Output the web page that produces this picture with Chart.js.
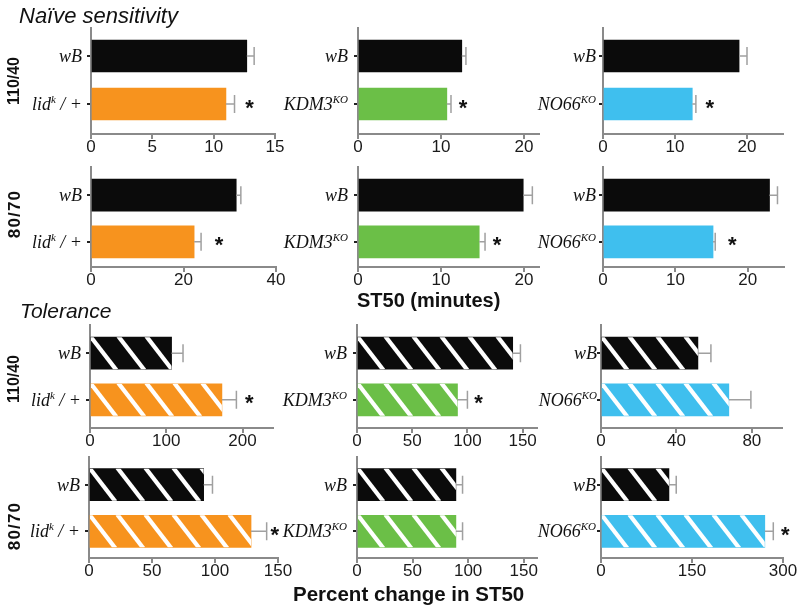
<!DOCTYPE html>
<html>
<head>
<meta charset="utf-8">
<script src="https://cdn.jsdelivr.net/npm/chart.js@4.4.1/dist/chart.umd.min.js"></script>
<style>
html,body{margin:0;padding:0;background:#fff;overflow:hidden;width:800px;height:615px}
#wrap{position:relative;width:800px;height:615px;overflow:hidden;background:#fff}
#wrap canvas{position:absolute}
.txt{position:absolute;white-space:nowrap;line-height:1;color:#111;font-family:"Liberation Sans",Arial,sans-serif}
</style>
</head>
<body>
<div id="wrap"></div>
<script>
// ================= DATA =================
const sectionTitles = ['Naïve sensitivity', 'Tolerance'];
const rowLabels = ['110/40', '80/70', '110/40', '80/70'];
const axisTitles = ['ST50 (minutes)', 'Percent change in ST50'];
const controlLabel = 'wB';
const mutantBase = ['lid', 'KDM3', 'NO66'];
const mutantSup = ['k', 'KO', 'KO'];
const mutantTail = [' / +', '', ''];

// Naive sensitivity, ST50 (minutes); columns = lid / KDM3 / NO66 panels
const naive11040Ctrl = [12.7, 12.5, 18.9];
const naive11040CtrlErr = [0.6, 0.5, 1.1];
const naive11040Mut = [11.0, 10.7, 12.4];
const naive11040MutErr = [0.7, 0.5, 0.5];
const naive11040Sig = [true, true, true];

const naive8070Ctrl = [31.4, 19.9, 23.0];
const naive8070CtrlErr = [1.0, 1.1, 1.1];
const naive8070Mut = [22.3, 14.6, 15.2];
const naive8070MutErr = [1.5, 0.7, 0.3];
const naive8070Sig = [true, true, true];

// Tolerance, percent change in ST50
const tol11040Ctrl = [107, 141, 51.4];
const tol11040CtrlErr = [15, 7, 6.9];
const tol11040Mut = [173, 91, 67.8];
const tol11040MutErr = [19, 9, 11.7];
const tol11040Sig = [true, true, false];

const tol8070Ctrl = [91, 89, 112];
const tol8070CtrlErr = [7, 6, 12];
const tol8070Mut = [128.6, 89, 270];
const tol8070MutErr = [12.4, 6, 14];
const tol8070Sig = [true, false, true];

// x-axis tick labels and axis limits
const naive11040Ticks = [[0, 5, 10, 15], [0, 10, 20], [0, 10, 20]];
const naive8070Ticks = [[0, 20, 40], [0, 10, 20], [0, 10, 20]];
const tol11040Ticks = [[0, 100, 200], [0, 50, 100, 150], [0, 40, 80]];
const tol8070Ticks = [[0, 50, 100, 150], [0, 50, 100, 150], [0, 150, 300]];
const naive11040Max = [15, 21.8, 25];
const naive8070Max = [40, 21.8, 25];
const tol11040Max = [240, 163, 96];
const tol8070Max = [150, 162, 300];

// ================= LAYOUT / STYLE =================
const rows = [
  {ctrl: naive11040Ctrl, ctrlErr: naive11040CtrlErr, mut: naive11040Mut, mutErr: naive11040MutErr, sig: naive11040Sig, ticks: naive11040Ticks, max: naive11040Max, hatched: false},
  {ctrl: naive8070Ctrl, ctrlErr: naive8070CtrlErr, mut: naive8070Mut, mutErr: naive8070MutErr, sig: naive8070Sig, ticks: naive8070Ticks, max: naive8070Max, hatched: false},
  {ctrl: tol11040Ctrl, ctrlErr: tol11040CtrlErr, mut: tol11040Mut, mutErr: tol11040MutErr, sig: tol11040Sig, ticks: tol11040Ticks, max: tol11040Max, hatched: true},
  {ctrl: tol8070Ctrl, ctrlErr: tol8070CtrlErr, mut: tol8070Mut, mutErr: tol8070MutErr, sig: tol8070Sig, ticks: tol8070Ticks, max: tol8070Max, hatched: true}
];
const rowGeom = [[56, 104, 134], [195, 241.5, 266.5], [353, 399.5, 427.5], [484.5, 531, 557.5]];
const colGeom = [
  [[91, 275], [358, 539], [603, 783]],
  [[91, 276], [358, 539], [603, 784]],
  [[90, 273], [357, 537], [601, 782]],
  [[89, 278], [357, 537], [601, 783]]
];
const labelGap = [[9, 10, 7], [9, 10, 7], [9, 10, 4], [9, 10, 5]];
const starDx = [[15, 12, 14], [18, 12, 17], [13, 11, 13], [8, 12, 12]];
const mutColors = ['#f7931e', '#6bbf47', '#3fbfee'];
const ctrlColor = '#0b0b0b';
const axisColor = '#8a8a8a';
const errColor = '#a0a0a0';
const SANS = '"Liberation Sans", Arial, sans-serif';
const SERIF = '"Liberation Serif", "Times New Roman", serif';

const wrap = document.getElementById('wrap');

function makeDecor(p) {
  return {
    id: 'decor',
    afterDatasetsDraw(chart) {
      const ctx = chart.ctx;
      const xs = chart.scales.x;
      const meta = chart.getDatasetMeta(0);
      meta.data.forEach((bar, i) => {
        const pr = bar.getProps(['x', 'y', 'base', 'height'], true);
        const left = Math.min(pr.base, pr.x), right = Math.max(pr.base, pr.x);
        const h = pr.height, top = pr.y - h / 2;
        if (p.hatched) {
          ctx.save();
          ctx.beginPath(); ctx.rect(left, top, right - left, h); ctx.clip();
          ctx.strokeStyle = '#ffffff'; ctx.lineWidth = 4.2; ctx.lineCap = 'butt';
          const slope = 0.77, sp = 28;
          for (let sx = left - sp; sx < right + 2; sx += sp) {
            ctx.beginPath();
            ctx.moveTo(sx - slope, top - 1);
            ctx.lineTo(sx + slope * (h + 1), top + h + 1);
            ctx.stroke();
          }
          ctx.restore();
        }
        const ex = xs.getPixelForValue(p.values[i] + p.errs[i]);
        ctx.save();
        ctx.strokeStyle = errColor; ctx.lineWidth = 1.5;
        ctx.beginPath();
        ctx.moveTo(pr.x, pr.y); ctx.lineTo(ex, pr.y);
        ctx.moveTo(ex, pr.y - 9); ctx.lineTo(ex, pr.y + 9);
        ctx.stroke();
        ctx.restore();
        if (p.sig[i]) {
          ctx.save();
          ctx.font = 'bold 22px ' + SANS;
          ctx.fillStyle = '#111';
          ctx.textAlign = 'center'; ctx.textBaseline = 'alphabetic';
          const m = ctx.measureText('*');
          const yb = pr.y + (m.actualBoundingBoxAscent - m.actualBoundingBoxDescent) / 2;
          ctx.fillText('*', ex + p.starDx, yb);
          ctx.restore();
        }
      });
    },
    afterDraw(chart) {
      const ctx = chart.ctx;
      const ys = chart.scales.y;
      const fMain = 'italic 18px ' + SERIF;
      const fSup = 'italic 11px ' + SERIF;
      p.labels.forEach((lab, i) => {
        const yy = ys.getPixelForValue(i);
        ctx.save();
        ctx.font = fMain;
        const w1 = ctx.measureText(lab.base).width;
        const w3 = lab.tail ? ctx.measureText(lab.tail).width : 0;
        ctx.font = fSup;
        const w2 = lab.sup ? ctx.measureText(lab.sup).width : 0;
        let x = chart.chartArea.left - p.gap - (w1 + w2 + w3);
        const bl = yy + 6;
        ctx.fillStyle = '#111'; ctx.textAlign = 'left'; ctx.textBaseline = 'alphabetic';
        ctx.font = fMain; ctx.fillText(lab.base, x, bl); x += w1;
        if (lab.sup) { ctx.font = fSup; ctx.fillText(lab.sup, x, bl - 7); x += w2; }
        if (lab.tail) { ctx.font = fMain; ctx.fillText(lab.tail, x, bl); }
        ctx.restore();
      });
    }
  };
}

const padL = 80, padR = 30, xAxisH = 32;

rows.forEach((row, r) => {
  const [c0, c1, axisY] = rowGeom[r];
  const gap = c1 - c0;
  const T = c0 - 28;
  const yMin = -(c0 - T) / gap;
  const yMax = 1 + (axisY - c1) / gap;
  for (let c = 0; c < 3; c++) {
    const [L, R] = colGeom[r][c];
    const canvasTop = Math.floor(T - 8);
    const padT = T - canvasTop;
    const cw = (R - L) + padL + padR;
    const ch = Math.round((axisY - T) + padT + xAxisH);
    const cv = document.createElement('canvas');
    cv.width = cw; cv.height = ch;
    cv.style.left = (L - padL) + 'px';
    cv.style.top = canvasTop + 'px';
    cv.style.width = cw + 'px'; cv.style.height = ch + 'px';
    wrap.appendChild(cv);
    const ticks = row.ticks[c];
    const p = {
      hatched: row.hatched,
      values: [row.ctrl[c], row.mut[c]],
      errs: [row.ctrlErr[c], row.mutErr[c]],
      sig: [false, row.sig[c]],
      starDx: starDx[r][c],
      gap: labelGap[r][c],
      labels: [{base: controlLabel, sup: '', tail: ''}, {base: mutantBase[c], sup: mutantSup[c], tail: mutantTail[c]}]
    };
    new Chart(cv, {
      type: 'bar',
      data: {
        datasets: [{
          data: [{x: row.ctrl[c], y: 0}, {x: row.mut[c], y: 1}],
          backgroundColor: [ctrlColor, mutColors[c]],
          borderWidth: 0,
          barThickness: 32
        }]
      },
      options: {
        indexAxis: 'y',
        responsive: false,
        animation: false,
        devicePixelRatio: 1,
        layout: {padding: {left: padL, right: padR, top: padT, bottom: 0}},
        plugins: {legend: {display: false}, tooltip: {enabled: false}},
        scales: {
          x: {
            type: 'linear', min: 0, max: row.max[c], offset: false,
            afterBuildTicks: s => { s.ticks = ticks.map(v => ({value: v})); },
            afterFit: s => { s.height = xAxisH; },
            grid: {drawOnChartArea: false, drawTicks: true, tickLength: 5, tickColor: axisColor, lineWidth: 2, offset: false},
            border: {display: true, color: axisColor, width: 2},
            ticks: {font: {family: SANS, size: 17}, color: '#1a1a1a', padding: -2, maxRotation: 0, autoSkip: false}
          },
          y: {
            type: 'linear', reverse: true, min: yMin, max: yMax, offset: false,
            afterBuildTicks: s => { s.ticks = [{value: 0}, {value: 1}]; },
            afterFit: s => { s.width = 0; },
            grid: {drawOnChartArea: false, drawTicks: true, tickLength: 4, tickColor: '#222', lineWidth: 2, offset: false},
            border: {display: true, color: axisColor, width: 2},
            ticks: {display: false}
          }
        }
      },
      plugins: [makeDecor(p)]
    });
  }
});

// ================= FREE TEXT =================
function addText(str, css) {
  const d = document.createElement('div');
  d.className = 'txt';
  d.textContent = str;
  Object.assign(d.style, css);
  wrap.appendChild(d);
  return d;
}
addText(sectionTitles[0], {left: '19px', top: '5px', fontSize: '22px', fontStyle: 'italic'});
addText(sectionTitles[1], {left: '20px', top: '300px', fontSize: '21px', fontStyle: 'italic'});
addText(axisTitles[0], {left: '357px', top: '290px', fontSize: '20px', fontWeight: 'bold'});
addText(axisTitles[1], {left: '293px', top: '584px', fontSize: '20.5px', fontWeight: 'bold'});
const rowLabelPos = [[13.5, 81], [14, 213.5], [13.5, 379], [14, 526]];
rowLabels.forEach((t, i) => {
  const is80 = t.indexOf('80') === 0;
  addText(t, {
    left: rowLabelPos[i][0] + 'px', top: rowLabelPos[i][1] + 'px',
    fontSize: is80 ? '17px' : '16px', fontWeight: 'bold',
    letterSpacing: is80 ? '1.2px' : '0px',
    transform: 'translate(-50%,-50%) rotate(-90deg)'
  });
});
</script>
</body>
</html>
